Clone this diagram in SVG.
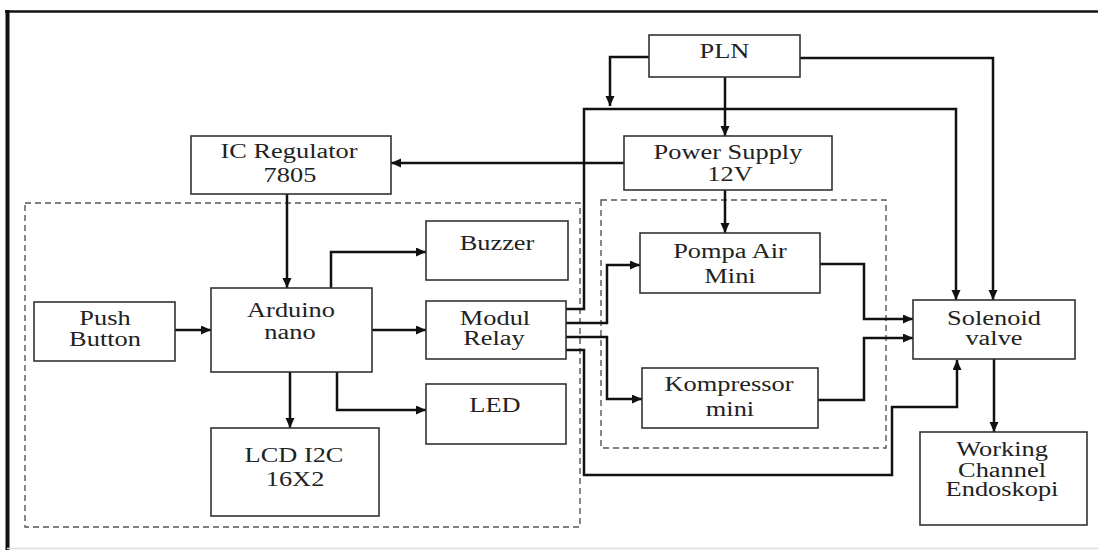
<svg xmlns="http://www.w3.org/2000/svg" width="1098" height="550" viewBox="0 0 1098 550">
<defs>
<marker id="ah" markerUnits="userSpaceOnUse" markerWidth="11" markerHeight="10" refX="10" refY="4.5" orient="auto">
<path d="M0,0 L10,4.5 L0,9 z" fill="#111"/>
</marker>
<style>
.box{fill:#fff;stroke:#333;stroke-width:1.6}
.dash{fill:none;stroke:#555;stroke-width:1.4;stroke-dasharray:6 4}
.c{fill:none;stroke:#111;stroke-width:2.5;marker-end:url(#ah)}
.cn{fill:none;stroke:#111;stroke-width:2.5}
.t{font-family:"Liberation Serif","Times New Roman",serif;font-size:20px;fill:#222;text-anchor:middle}
</style>
</defs>
<rect x="0" y="0" width="1098" height="550" fill="#fff"/>
<g id="frame">
<line x1="5" y1="11.5" x2="1098" y2="11.5" stroke="#111" stroke-width="2.5"/>
<line x1="7.5" y1="10" x2="7.5" y2="550" stroke="#111" stroke-width="4"/>
<line x1="7" y1="548.5" x2="1098" y2="548.5" stroke="#ddd" stroke-width="1.5"/>
</g>
<g id="groups">
<rect class="dash" x="25" y="203" width="555" height="324"/>
<rect class="dash" x="601" y="200" width="285" height="248"/>
</g>
<g id="connectors">
<path class="c" d="M649,57 H610 V106"/>
<path class="c" d="M725,77 V136"/>
<path class="c" d="M800,58 H993 V300"/>
<path class="c" d="M624,163 H391"/>
<path class="c" d="M566,309 H584 V109 H956 V300"/>
<path class="c" d="M287,194 V288"/>
<path class="c" d="M331,288 V252 H426"/>
<path class="c" d="M175,330 H211"/>
<path class="c" d="M372,330 H426"/>
<path class="c" d="M290,372 V428"/>
<path class="c" d="M337,372 V410 H426"/>
<path class="c" d="M725,190 V233"/>
<path class="c" d="M566,323 H607 V265 H640"/>
<path class="c" d="M566,337 H607 V399 H642"/>
<path class="c" d="M820,264 H864 V319 H913"/>
<path class="c" d="M818,400 H864 V338 H913"/>
<path class="c" d="M566,350 H584 V475 H892 V407 H957 V360"/>
<path class="c" d="M994,359 V432"/>
</g>
<g id="pln">
<rect class="box" x="649" y="35" width="151" height="42"/>
<text class="t" transform="matrix(1.32 0 0 1 724.5 58)">PLN</text>
</g>
<g id="power-supply">
<rect class="box" x="624" y="136" width="208" height="54"/>
<text class="t" transform="matrix(1.32 0 0 1 728 159)">Power Supply</text>
<text class="t" transform="matrix(1.32 0 0 1 730 181)">12V</text>
</g>
<g id="ic-regulator">
<rect class="box" x="191" y="136" width="200" height="58"/>
<text class="t" transform="matrix(1.32 0 0 1 289 158)">IC Regulator</text>
<text class="t" transform="matrix(1.32 0 0 1 290 182)">7805</text>
</g>
<g id="buzzer">
<rect class="box" x="426" y="221" width="142" height="59"/>
<text class="t" transform="matrix(1.32 0 0 1 497 250)">Buzzer</text>
</g>
<g id="push-button">
<rect class="box" x="34" y="302" width="141" height="59"/>
<text class="t" transform="matrix(1.32 0 0 1 105 325)">Push</text>
<text class="t" transform="matrix(1.32 0 0 1 105 346)">Button</text>
</g>
<g id="arduino">
<rect class="box" x="211" y="288" width="161" height="84"/>
<text class="t" transform="matrix(1.32 0 0 1 291 317)">Arduino</text>
<text class="t" transform="matrix(1.32 0 0 1 290 339)">nano</text>
</g>
<g id="modul-relay">
<rect class="box" x="426" y="301" width="140" height="58"/>
<text class="t" transform="matrix(1.32 0 0 1 495 325)">Modul</text>
<text class="t" transform="matrix(1.32 0 0 1 494 345)">Relay</text>
</g>
<g id="led">
<rect class="box" x="426" y="384" width="140" height="60"/>
<text class="t" transform="matrix(1.32 0 0 1 495 412)">LED</text>
</g>
<g id="lcd">
<rect class="box" x="211" y="428" width="168" height="88"/>
<text class="t" transform="matrix(1.32 0 0 1 294 462)">LCD I2C</text>
<text class="t" transform="matrix(1.32 0 0 1 295 486)">16X2</text>
</g>
<g id="pompa">
<rect class="box" x="640" y="233" width="180" height="60"/>
<text class="t" transform="matrix(1.32 0 0 1 730 258)">Pompa Air</text>
<text class="t" transform="matrix(1.32 0 0 1 730 283)">Mini</text>
</g>
<g id="kompressor">
<rect class="box" x="642" y="368" width="176" height="60"/>
<text class="t" transform="matrix(1.32 0 0 1 729 391)">Kompressor</text>
<text class="t" transform="matrix(1.32 0 0 1 730 416)">mini</text>
</g>
<g id="solenoid">
<rect class="box" x="913" y="300" width="162" height="59"/>
<text class="t" transform="matrix(1.32 0 0 1 994 325)">Solenoid</text>
<text class="t" transform="matrix(1.32 0 0 1 994 345)">valve</text>
</g>
<g id="working-channel">
<rect class="box" x="920" y="432" width="167" height="93"/>
<text class="t" transform="matrix(1.32 0 0 1 1002 456)">Working</text>
<text class="t" transform="matrix(1.32 0 0 1 1002 477)">Channel</text>
<text class="t" transform="matrix(1.32 0 0 1 1002 496)">Endoskopi</text>
</g>
</svg>
